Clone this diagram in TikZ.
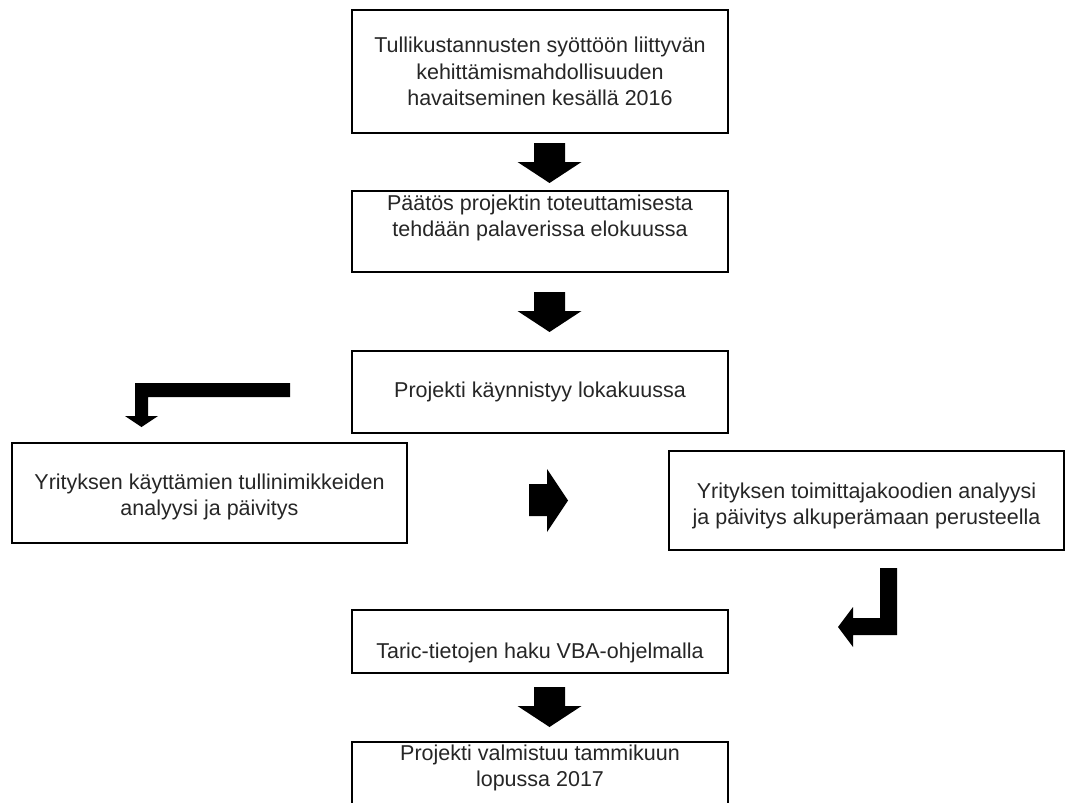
\documentclass[tikz,border=0pt]{standalone}
\usepackage{fontspec}
\setmainfont{Liberation Sans}
\begin{document}
\begin{tikzpicture}[x=1pt,y=-1pt,
  box/.style={draw=black, line width=2.4pt, fill=white, inner sep=0pt, align=center,
    font=\fontsize{21.5}{26.5}\selectfont, text=black!85},
  txt/.style={align=center, font=\fontsize{21.5}{26.5}\selectfont, text=black!85, inner sep=0pt},
  downarr/.pic={\fill[black] (-15.5,0)--(15.5,0)--(15.5,19)--(32,19)--(0,40)--(-32,19)--(-15.5,19)--cycle;}]
\useasboundingbox (0,0) rectangle (1066,803);

\node[box, minimum width=376pt, minimum height=123pt] (b1) at (540,71.5)
  {Tullikustannusten syöttöön liittyvän\\kehittämismahdollisuuden\\havaitseminen kesällä 2016};
\node[box, minimum width=376pt, minimum height=81pt] (b2) at (540,231.5) {};
\node[txt] (b2t) at (540,218) {Päätös projektin toteuttamisesta\\tehdään palaverissa elokuussa};
\node[box, minimum width=376pt, minimum height=82pt] (b3) at (540,392) {Projekti käynnistyy lokakuussa};
\node[box, minimum width=395pt, minimum height=100pt] (bl) at (209.5,493) {};
\node[txt] (blt) at (209.5,497) {Yrityksen käyttämien tullinimikkeiden\\analyysi ja päivitys};
\node[box, minimum width=395pt, minimum height=99pt] (br) at (866.5,500.5) {};
\node[txt] (brt) at (866.5,506) {Yrityksen toimittajakoodien analyysi\\ja päivitys alkuperämaan perusteella};
\node[box, minimum width=376pt, minimum height=63pt] (b6) at (540,641.5) {};
\node[txt] (b6t) at (540,653) {Taric-tietojen haku VBA-ohjelmalla};
\node[box, minimum width=376pt, minimum height=64pt] (b7) at (540,774) {};
\node[txt] (b7t) at (540,768) {Projekti valmistuu tammikuun\\lopussa 2017};

% block arrows
\pic at (549.5,143) {downarr};
\pic at (549.5,292) {downarr};
\pic at (549.5,687) {downarr};
\fill[black] (529,484)--(547,484)--(547,469)--(568,500.5)--(547,532)--(547,516)--(529,516)--cycle;
\fill[black] (290,383)--(290,397)--(148,397)--(148,416)--(158,416)--(141.5,427)--(125,416)--(135,416)--(135,383)--cycle;
\fill[black] (880,568)--(897,568)--(897,635)--(853,635)--(853,647)--(838,627)--(853,607)--(853,618)--(880,618)--cycle;
\end{tikzpicture}
\end{document}
